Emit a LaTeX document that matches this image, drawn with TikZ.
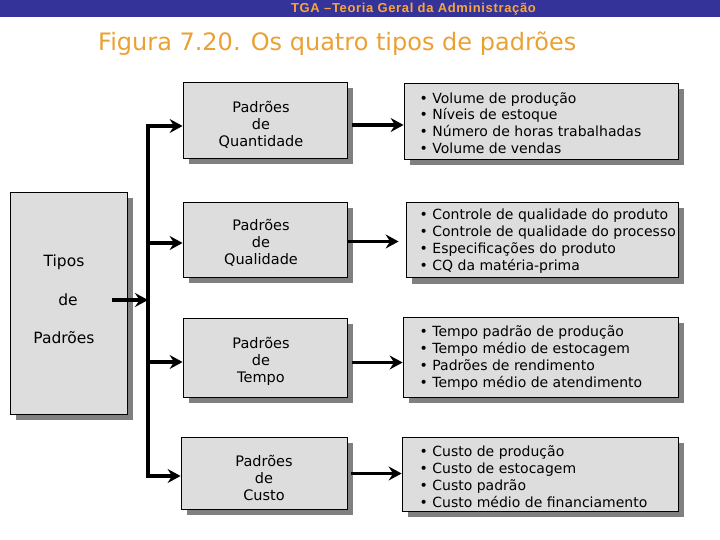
\documentclass[tikz,border=0pt]{standalone}
\usepackage{fontspec}
\setmainfont{DejaVu Sans}
\newfontfamily\hdrfont[LetterSpace=5]{Liberation Sans}
\usetikzlibrary{arrows.meta,shadows,calc}
\definecolor{hdrblue}{RGB}{51,51,153}
\definecolor{hdrorange}{RGB}{250,165,60}
\definecolor{titleorange}{RGB}{235,160,50}
\definecolor{boxgray}{RGB}{221,221,221}
\definecolor{shadowgray}{RGB}{128,128,128}
\begin{document}
\begin{tikzpicture}[x=1pt,y=-1pt,
  box/.style={draw=black, line width=0.8pt, fill=boxgray, inner sep=0pt,
    drop shadow={shadow xshift=6pt, shadow yshift=-6pt, fill=shadowgray, opacity=1}},
  lbl/.style={font=\fontsize{14.5}{17}\selectfont, align=center, inner sep=0pt},
  lst/.style={font=\fontsize{14}{16.8}\selectfont, align=left, inner sep=0pt, anchor=west},
  arr/.style={line width=3.6pt, -{Stealth[length=13pt,width=14pt,inset=4.5pt]}},
]
\useasboundingbox (0,0) rectangle (720,540);
\fill[hdrblue] (0,0) rectangle (720,17);
\node[font=\hdrfont\bfseries\fontsize{13}{15}\selectfont, text=hdrorange, anchor=base, inner sep=0pt] (hdr) at (413.5,12.8) {TGA –Teoria Geral da Administração};
\node[font=\fontsize{24}{28}\selectfont, text=titleorange, anchor=base west, inner sep=0pt] (title) at (98,51) {Figura 7.20. Os quatro tipos de padrões};

% left box
\node[box, minimum width=117pt, minimum height=222pt] (tipos) at (68.5,303) {};
\node[font=\fontsize{15.5}{38.5}\selectfont, align=center, inner sep=0pt] (tiposlbl) at (64,299.5) {Tipos\\\hspace*{8pt}de\\Padrões};

% middle boxes
\node[box, minimum width=164pt, minimum height=76pt] (quant) at (265,120.5) {};
\node[box, minimum width=164pt, minimum height=75pt] (qual) at (265,239.5) {};
\node[box, minimum width=164pt, minimum height=79pt] (tempo) at (265,357.5) {};
\node[box, minimum width=166pt, minimum height=72pt] (custo) at (264,473) {};
\node[lbl] (quantlbl) at (261,125) {Padrões\\de\\Quantidade};
\node[lbl] (quallbl) at (261,243) {Padrões\\de\\Qualidade};
\node[lbl] (tempolbl) at (261,361) {Padrões\\de\\Tempo};
\node[lbl] (custolbl) at (264,478) {Padrões\\de\\Custo};

% right boxes
\node[box, minimum width=274pt, minimum height=76pt] (l1) at (541,121) {};
\node[box, minimum width=272pt, minimum height=75pt] (l2) at (542,240) {};
\node[box, minimum width=275pt, minimum height=80pt] (l3) at (540.5,357) {};
\node[box, minimum width=276pt, minimum height=74pt] (l4) at (540,474) {};
\node[lst] (t1) at (419.5,123) {•\ Volume de produção\\•\ Níveis de estoque\\•\ Número de horas trabalhadas\\•\ Volume de vendas};
\node[lst] (t2) at (419.5,241) {•\ Controle de qualidade do produto\\•\ Controle de qualidade do processo\\•\ Especificações do produto\\•\ CQ da matéria-prima};
\node[lst] (t3) at (419.5,358) {•\ Tempo padrão de produção\\•\ Tempo médio de estocagem\\•\ Padrões de rendimento\\•\ Tempo médio de atendimento};
\node[lst] (t4) at (419.5,476.5) {•\ Custo de produção\\•\ Custo de estocagem\\•\ Custo padrão\\•\ Custo médio de financiamento};

% bus
\coordinate (b1) at (148,126);
\coordinate (b2) at (148,243);
\coordinate (b3) at (148,362);
\coordinate (b4) at (148,476);
\coordinate (bt) at (148,300);
\coordinate (ls) at (112,300);
\draw[arr] (b4) -- (b1) -- (b1 -| quant.west);
\draw[arr] (b1) -- (b4) -- (b4 -| custo.west);
\draw[arr] (b2) -- (b2 -| qual.west);
\draw[arr] (b3) -- (b3 -| tempo.west);
\draw[arr] (ls) -- (bt);

% right arrows
\draw[arr] ($(quant.east |- 0,125)+(5,0)$) -- (l1.west |- 0,125);
\draw[arr] ($(qual.east |- 0,241.5)+(0,0)$) -- ($(l2.west |- 0,241.5)+(-7,0)$);
\draw[arr] ($(tempo.east |- 0,362.5)+(5,0)$) -- (l3.west |- 0,362.5);
\draw[arr] ($(custo.east |- 0,473.5)+(4,0)$) -- (l4.west |- 0,473.5);
\end{tikzpicture}
\end{document}
